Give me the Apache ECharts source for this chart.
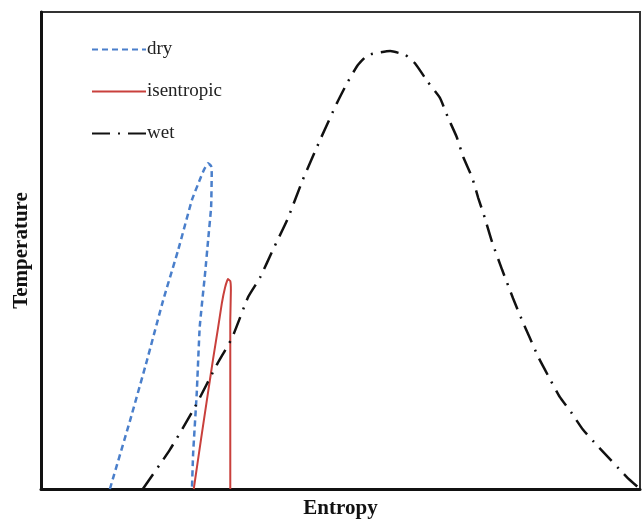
<!DOCTYPE html>
<html>
<head>
<meta charset="utf-8">
<script src="https://cdn.jsdelivr.net/npm/echarts@6/dist/echarts.min.js"></script>
<style>
    html, body { margin: 0; padding: 0; background: #fff; }
    #chart { width: 643px; height: 521px; }
</style>
</head>
<body>
<div id="chart"></div>
<script>
// curves, [entropy, temperature] on a 0..100 scale
var dry_data = [
    [11.5, 0], [14.9, 14.5], [17.7, 27.0], [20.4, 39.6], [22.9, 50.1],
    [25.2, 60.6], [26.5, 64.8], [27.2, 66.9], [27.9, 68.3], [28.4, 67.7],
    [28.5, 66.2], [28.4, 59.1], [27.9, 52.2], [27.4, 45.3], [26.5, 34.0],
    [26.0, 20.1], [25.4, 7.5], [25.2, 0]
];
var isentropic_data = [
    [25.5, 0], [26.7, 10.3], [27.7, 18.7], [28.7, 27.0], [29.5, 33.3],
    [30.2, 39.0], [30.7, 42.1], [31.2, 44.0], [31.6, 43.6], [31.7, 41.7],
    [31.6, 35.4], [31.6, 0]
];
var wet_data = [
    [17.0, 0], [21.5, 8.2], [25.7, 17.2], [29.5, 26.4], [31.9, 31.7],
    [34.6, 40.3], [36.6, 44.4], [38.7, 50.1], [41.1, 56.4], [43.7, 64.8],
    [46.6, 73.2], [49.4, 80.9], [51.1, 85.1], [52.9, 88.9], [54.6, 91.0],
    [58.3, 91.8], [60.8, 91.0], [62.4, 89.3], [64.6, 85.3], [66.6, 82.0],
    [67.9, 78.0], [69.4, 73.8], [70.5, 69.6], [72.0, 65.2], [73.0, 61.0],
    [74.1, 56.8], [75.3, 51.8], [77.0, 45.9], [78.8, 40.0], [80.3, 35.4],
    [81.6, 31.7], [83.0, 27.7], [84.6, 23.9], [86.6, 19.3], [88.5, 16.1],
    [90.5, 12.4], [92.8, 9.2], [97.8, 2.5], [100, 0]
];
var series_names = ['dry', 'isentropic', 'wet'];

var CHART = {
    init: function(){
        var _this = this;
        var myChart = echarts.init(document.getElementById('chart'));
        myChart.setOption(_this.init_option());
    },
    init_option: function(){
        var font = 'Liberation Serif';
        var option = {
            animation: false,
            grid: {
                left: 41, right: 3, top: 12, bottom: 32,
                outerBoundsMode: 'none',
                containLabel: false,
                show: true, borderColor: '#333', borderWidth: 2
            },
            legend: {
                data: series_names,
                orient: 'vertical',
                left: 86,
                top: 35,
                itemWidth: 54,
                itemHeight: 14,
                itemGap: 23,
                itemStyle: { opacity: 0 },
                textStyle: { fontFamily: font, fontSize: 19, color: '#222', padding: [0, 0, 0, -4] }
            },
            xAxis: {
                type: 'value', min: 0, max: 100,
                name: 'Entropy', nameLocation: 'middle', nameGap: 9,
                nameTextStyle: { fontFamily: font, fontSize: 21, fontWeight: 'bold', color: '#111', verticalAlign: 'top' },
                axisLine: { show: true, lineStyle: { color: '#111', width: 3 } },
                axisTick: { show: false }, axisLabel: { show: false }, splitLine: { show: false }
            },
            yAxis: {
                type: 'value', min: 0, max: 100,
                name: 'Temperature', nameLocation: 'middle', nameGap: 9,
                nameTextStyle: { fontFamily: font, fontSize: 21, fontWeight: 'bold', color: '#111' },
                axisLine: { show: true, lineStyle: { color: '#111', width: 3 } },
                axisTick: { show: false }, axisLabel: { show: false }, splitLine: { show: false }
            },
            series: [
                {
                    name: 'dry', type: 'line', data: dry_data,
                    symbol: 'none', smooth: 0.12,
                    lineStyle: { color: '#4a7fcb', width: 2.5, type: [6, 4] },
                    itemStyle: { color: '#4a7fcb' }
                },
                {
                    name: 'isentropic', type: 'line', data: isentropic_data,
                    symbol: 'none', smooth: 0.12,
                    lineStyle: { color: '#c9403c', width: 2 },
                    itemStyle: { color: '#c9403c' }
                },
                {
                    name: 'wet', type: 'line', data: wet_data,
                    symbol: 'none', smooth: 0.15,
                    lineStyle: { color: '#111', width: 2.5, type: [18, 8, 2, 8] },
                    itemStyle: { color: '#111' }
                }
            ]
        };
        return option;
    }
};

CHART.init();
</script>
</body>
</html>
